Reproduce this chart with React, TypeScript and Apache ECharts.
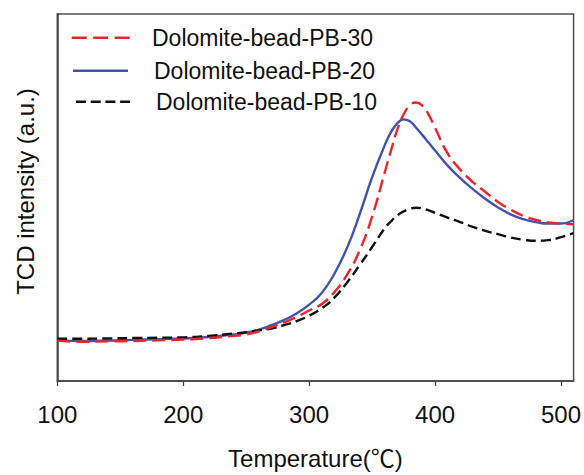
import React, { useEffect, useRef } from "react";
import * as echarts from "echarts";

const temperatures = [
  100, 120, 140, 160, 180, 200, 220, 240, 250, 260, 270, 280, 290, 300, 310, 320, 330, 340, 350, 360,
  365, 370, 375, 380, 385, 390, 395, 400, 410, 420, 430, 440, 450, 460, 470, 480, 490, 500, 510,
];

const pb30 = [
  11.0, 10.7, 10.8, 10.9, 11.1, 11.3, 11.7, 12.3, 12.7, 13.5, 14.7, 16.0, 17.4, 19.2, 21.0, 24.2, 28.9, 35.5, 44.8, 56.8,
  62.8, 68.5, 72.6, 75.1, 75.9, 75.0, 72.5, 69.0, 62.0, 57.6, 54.2, 51.5, 48.8, 46.7, 45.0, 43.9, 43.2, 42.9, 42.7,
];

const pb20 = [
  11.0, 10.9, 11.0, 11.2, 11.4, 11.6, 12.0, 12.7, 13.2, 14.0, 15.2, 16.6, 18.4, 20.8, 24.0, 29.2, 36.2, 45.3, 55.5, 64.2,
  67.8, 70.2, 71.3, 70.8, 69.0, 67.0, 64.9, 62.8, 58.7, 55.3, 52.3, 49.6, 47.3, 45.4, 44.1, 43.3, 42.9, 42.9, 43.8,
];

const pb10 = [
  11.5, 11.5, 11.6, 11.7, 11.8, 11.9, 12.3, 12.9, 13.3, 13.8, 14.3, 15.2, 16.3, 17.8, 19.8, 22.7, 26.8, 31.5, 36.5, 41.6,
  43.5, 45.1, 46.2, 46.9, 47.2, 47.0, 46.5, 45.8, 44.5, 43.3, 42.0, 40.9, 40.0, 39.1, 38.5, 38.2, 38.4, 39.2, 40.3,
];

const xTicks = [100, 200, 300, 400, 500];
const seriesNames = ["Dolomite-bead-PB-30", "Dolomite-bead-PB-20", "Dolomite-bead-PB-10"];

const FONT = '"Liberation Sans", Arial, Helvetica, "Noto Sans CJK SC", sans-serif';
const RED = "#f2222a";
const BLUE = "#4154ac";
const BLACK = "#111111";

const pairs = (vals: number[]) => temperatures.map((t, i) => [t, vals[i]]);

export default function App() {
  const ref = useRef<HTMLDivElement>(null);

  useEffect(() => {
    if (!ref.current) return;
    const chart = echarts.init(ref.current, undefined, { renderer: "svg" });
    chart.setOption({
      animation: false,
      backgroundColor: "#ffffff",
      grid: {
        left: 57.3,
        right: 10,
        top: 14,
        bottom: 88.3,
        show: true,
        borderColor: "#505050",
        borderWidth: 1.5,
        backgroundColor: "transparent",
      },
      xAxis: {
        type: "value",
        min: 100,
        max: 510,
        interval: 100,
        name: "Temperature(℃)",
        nameLocation: "middle",
        nameGap: 65,
        nameTextStyle: { fontSize: 24, fontFamily: FONT, color: "#111" },
        axisLine: { show: true, lineStyle: { color: "#404040", width: 1.5 } },
        axisTick: {
          show: true,
          inside: false,
          length: 5,
          customValues: xTicks,
          lineStyle: { color: "#404040", width: 1.2 },
        },
        axisLabel: {
          customValues: xTicks,
          margin: 21,
          fontSize: 24,
          fontFamily: FONT,
          color: "#111",
        },
        splitLine: { show: false },
      },
      yAxis: {
        type: "value",
        min: 0,
        max: 100,
        name: "TCD intensity (a.u.)",
        nameLocation: "middle",
        nameRotate: 90,
        nameGap: 20,
        nameTextStyle: { fontSize: 24, fontFamily: FONT, color: "#111", padding: [0, 0, 0, 12] },
        axisLine: { show: true, lineStyle: { color: "#404040", width: 1.5 } },
        axisTick: { show: false },
        axisLabel: { show: false },
        splitLine: { show: false },
      },
      series: [
        {
          name: seriesNames[1],
          type: "line",
          data: pairs(pb20),
          smooth: true,
          showSymbol: false,
          symbol: "none",
          lineStyle: { color: BLUE, width: 2.4, type: "solid" },
          z: 2,
        },
        {
          name: seriesNames[2],
          type: "line",
          data: pairs(pb10),
          smooth: true,
          showSymbol: false,
          symbol: "none",
          lineStyle: { color: BLACK, width: 2.4, type: [10, 5] },
          z: 3,
        },
        {
          name: seriesNames[0],
          type: "line",
          data: pairs(pb30),
          smooth: true,
          showSymbol: false,
          symbol: "none",
          lineStyle: { color: RED, width: 2.4, type: [13, 6] },
          z: 4,
        },
      ],
      graphic: [
        {
          type: "line",
          shape: { x1: 71.7, y1: 37.7, x2: 130, y2: 37.7 },
          style: { stroke: RED, lineWidth: 2.5, lineDash: [15, 6.5] },
        },
        {
          type: "line",
          shape: { x1: 73, y1: 70.7, x2: 128, y2: 70.7 },
          style: { stroke: BLUE, lineWidth: 2.5 },
        },
        {
          type: "line",
          shape: { x1: 76, y1: 101.7, x2: 130, y2: 101.7 },
          style: { stroke: BLACK, lineWidth: 2.5, lineDash: [10, 4.7] },
        },
        {
          type: "text",
          x: 152,
          y: 38,
          style: { text: seriesNames[0], fontSize: 23, fontFamily: FONT, fill: "#111", verticalAlign: "middle" },
        },
        {
          type: "text",
          x: 154,
          y: 71,
          style: { text: seriesNames[1], fontSize: 23, fontFamily: FONT, fill: "#111", verticalAlign: "middle" },
        },
        {
          type: "text",
          x: 156,
          y: 102,
          style: { text: seriesNames[2], fontSize: 23, fontFamily: FONT, fill: "#111", verticalAlign: "middle" },
        },
      ],
    });
    return () => chart.dispose();
  }, []);

  return (
    <div
      ref={ref}
      style={{ position: "fixed", left: 0, top: 0, width: 584, height: 475, background: "#fff" }}
    />
  );
}
